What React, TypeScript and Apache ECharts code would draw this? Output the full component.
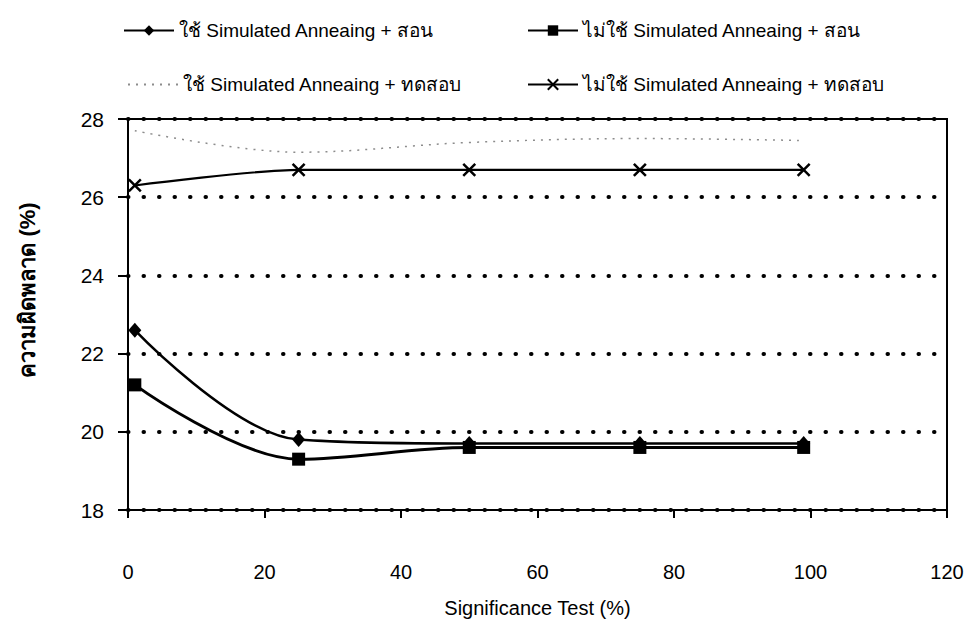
import React, { useEffect, useRef } from "react";
import * as echarts from "echarts";

// Significance test level (%) at which each configuration was evaluated
const sigLevels = [1, 25, 50, 75, 99];

// Error rate (%) for each configuration
const saTrain = [22.6, 19.8, 19.7, 19.7, 19.7];
const noSaTrain = [21.2, 19.3, 19.6, 19.6, 19.6];
const saTest = [27.7, 27.15, 27.4, 27.5, 27.45];
const noSaTest = [26.3, 26.7, 26.7, 26.7, 26.7];

const seriesNames = [
  "ใช้ Simulated Anneaing + สอน",
  "ไม่ใช้ Simulated Anneaing + สอน",
  "ใช้ Simulated Anneaing + ทดสอบ",
  "ไม่ใช้ Simulated Anneaing + ทดสอบ",
];

const xTicks = { min: 0, max: 120, interval: 20 };
const yTicks = { min: 18, max: 28, interval: 2 };

const FONT = "'Liberation Sans', Arial, 'DejaVu Sans', 'Noto Sans', sans-serif";

const crossSymbol = "path://M0,0L10,10M10,0L0,10";

function pairs(values: number[]) {
  return sigLevels.map((x, i) => [x, values[i]]);
}

export default function App() {
  const ref = useRef<HTMLDivElement>(null);

  useEffect(() => {
    if (!ref.current) return;
    const chart = echarts.init(ref.current, undefined, { renderer: "svg" });

    const legendBase = {
      itemWidth: 50,
      itemHeight: 13,
      itemGap: 10,
      textStyle: { fontFamily: FONT, fontSize: 19, color: "#000" },
    };

    chart.setOption({
      animation: false,
      backgroundColor: "#fff",
      legend: [
        { ...legendBase, data: [seriesNames[0]], left: 118, top: 16 },
        { ...legendBase, data: [seriesNames[1]], left: 522, top: 16 },
        {
          ...legendBase,
          data: [{ name: seriesNames[2], itemStyle: { opacity: 0 } }],
          left: 122,
          top: 70,
        },
        { ...legendBase, data: [seriesNames[3]], left: 522, top: 70 },
      ],
      grid: {
        left: 128,
        right: 26,
        top: 119,
        bottom: 118,
        show: true,
        borderColor: "#000",
        borderWidth: 2,
        backgroundColor: "transparent",
      },
      xAxis: {
        type: "value",
        ...xTicks,
        name: "Significance Test (%)",
        nameLocation: "middle",
        nameGap: 88,
        nameTextStyle: { fontFamily: FONT, fontSize: 20, color: "#000" },
        axisLine: { show: true, onZero: false, lineStyle: { color: "#000", width: 2 } },
        axisTick: { show: true, inside: false, length: 8, lineStyle: { color: "#000", width: 2 } },
        axisLabel: { fontFamily: FONT, fontSize: 20, color: "#000", margin: 52 },
        splitLine: { show: false },
      },
      yAxis: {
        type: "value",
        ...yTicks,
        axisLine: { show: true, lineStyle: { color: "#000", width: 2 } },
        axisTick: { show: true, inside: false, length: 10, lineStyle: { color: "#000", width: 2 } },
        axisLabel: { fontFamily: FONT, fontSize: 21, color: "#000", margin: 24 },
        splitLine: {
          show: true,
          lineStyle: { color: "#000", width: 4, type: [0.5, 15], cap: "round" },
        },
      },
      graphic: [
        {
          type: "text",
          x: 27,
          y: 290,
          rotation: Math.PI / 2,
          style: {
            text: "ความผิดพลาด (%)",
            fontFamily: FONT,
            fontSize: 22,
            fontWeight: "bold",
            fill: "#000",
            align: "center",
            verticalAlign: "middle",
          },
        },
      ],
      series: [
        {
          name: seriesNames[0],
          type: "line",
          smooth: 0.35,
          data: pairs(saTrain),
          symbol: "diamond",
          symbolSize: [13, 15],
          lineStyle: { color: "#000", width: 2.5 },
          itemStyle: { color: "#000" },
          z: 3,
        },
        {
          name: seriesNames[1],
          type: "line",
          smooth: 0.35,
          data: pairs(noSaTrain),
          symbol: "rect",
          symbolSize: 13,
          lineStyle: { color: "#000", width: 3 },
          itemStyle: { color: "#000" },
          z: 3,
        },
        {
          name: seriesNames[2],
          type: "line",
          smooth: 0.35,
          data: pairs(saTest),
          symbol: "none",
          lineStyle: { color: "#8c8c8c", width: 1.5, type: [2, 6] },
          itemStyle: { color: "#8c8c8c" },
          z: 2,
        },
        {
          name: seriesNames[3],
          type: "line",
          smooth: 0.25,
          data: pairs(noSaTest),
          symbol: crossSymbol,
          symbolSize: 12,
          lineStyle: { color: "#000", width: 2.2 },
          itemStyle: { color: "#000", borderColor: "#000", borderWidth: 2.5 },
          z: 3,
        },
      ],
    });

    return () => chart.dispose();
  }, []);

  return <div ref={ref} style={{ width: 973, height: 628, margin: -8 }} />;
}
